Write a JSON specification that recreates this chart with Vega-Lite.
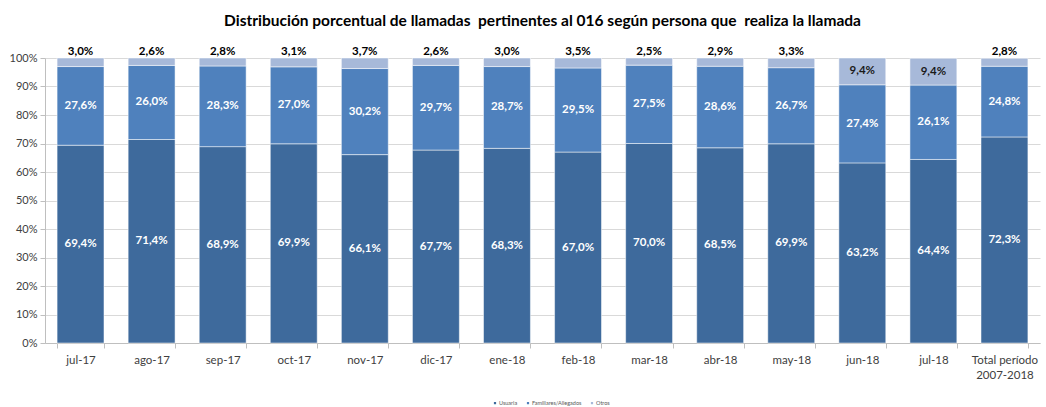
{
  "$schema": "https://vega.github.io/schema/vega-lite/v6.json",
  "width": 995,
  "height": 285,
  "autosize": {"type": "none"},
  "padding": {"left": 45, "top": 58, "right": 6, "bottom": 64},
  "background": "white",
  "config": {
    "font": "Lato",
    "view": {"stroke": null},
    "locale": {"number": {"decimal": ",", "thousands": ".", "grouping": [3], "currency": ["", " €"]}}
  },
  "title": {
    "text": "Distribución porcentual de llamadas\u00a0 pertinentes al 016 según persona que\u00a0 realiza la llamada",
    "font": "Lato",
    "fontSize": 15.5,
    "fontWeight": "bold",
    "color": "#000000",
    "anchor": "middle",
    "offset": 17
  },
  "data": {
    "values": [
      {"mes": "jul-17", "serie": "Usuaria", "v": 69.4},
      {"mes": "jul-17", "serie": "Familiares/Allegados", "v": 27.6},
      {"mes": "jul-17", "serie": "Otros", "v": 3.0},
      {"mes": "ago-17", "serie": "Usuaria", "v": 71.4},
      {"mes": "ago-17", "serie": "Familiares/Allegados", "v": 26.0},
      {"mes": "ago-17", "serie": "Otros", "v": 2.6},
      {"mes": "sep-17", "serie": "Usuaria", "v": 68.9},
      {"mes": "sep-17", "serie": "Familiares/Allegados", "v": 28.3},
      {"mes": "sep-17", "serie": "Otros", "v": 2.8},
      {"mes": "oct-17", "serie": "Usuaria", "v": 69.9},
      {"mes": "oct-17", "serie": "Familiares/Allegados", "v": 27.0},
      {"mes": "oct-17", "serie": "Otros", "v": 3.1},
      {"mes": "nov-17", "serie": "Usuaria", "v": 66.1},
      {"mes": "nov-17", "serie": "Familiares/Allegados", "v": 30.2},
      {"mes": "nov-17", "serie": "Otros", "v": 3.7},
      {"mes": "dic-17", "serie": "Usuaria", "v": 67.7},
      {"mes": "dic-17", "serie": "Familiares/Allegados", "v": 29.7},
      {"mes": "dic-17", "serie": "Otros", "v": 2.6},
      {"mes": "ene-18", "serie": "Usuaria", "v": 68.3},
      {"mes": "ene-18", "serie": "Familiares/Allegados", "v": 28.7},
      {"mes": "ene-18", "serie": "Otros", "v": 3.0},
      {"mes": "feb-18", "serie": "Usuaria", "v": 67.0},
      {"mes": "feb-18", "serie": "Familiares/Allegados", "v": 29.5},
      {"mes": "feb-18", "serie": "Otros", "v": 3.5},
      {"mes": "mar-18", "serie": "Usuaria", "v": 70.0},
      {"mes": "mar-18", "serie": "Familiares/Allegados", "v": 27.5},
      {"mes": "mar-18", "serie": "Otros", "v": 2.5},
      {"mes": "abr-18", "serie": "Usuaria", "v": 68.5},
      {"mes": "abr-18", "serie": "Familiares/Allegados", "v": 28.6},
      {"mes": "abr-18", "serie": "Otros", "v": 2.9},
      {"mes": "may-18", "serie": "Usuaria", "v": 69.9},
      {"mes": "may-18", "serie": "Familiares/Allegados", "v": 26.7},
      {"mes": "may-18", "serie": "Otros", "v": 3.3},
      {"mes": "jun-18", "serie": "Usuaria", "v": 63.2},
      {"mes": "jun-18", "serie": "Familiares/Allegados", "v": 27.4},
      {"mes": "jun-18", "serie": "Otros", "v": 9.4},
      {"mes": "jul-18", "serie": "Usuaria", "v": 64.4},
      {"mes": "jul-18", "serie": "Familiares/Allegados", "v": 26.1},
      {"mes": "jul-18", "serie": "Otros", "v": 9.4},
      {"mes": "Total período 2007-2018", "serie": "Usuaria", "v": 72.3},
      {"mes": "Total período 2007-2018", "serie": "Familiares/Allegados", "v": 24.8},
      {"mes": "Total período 2007-2018", "serie": "Otros", "v": 2.8}
    ]
  },
  "transform": [
    {"calculate": "indexof(['Usuaria','Familiares/Allegados','Otros'], datum.serie)", "as": "k"},
    {"stack": "v", "groupby": ["mes"], "sort": [{"field": "k", "order": "ascending"}], "as": ["y0", "y1"]},
    {"calculate": "(datum.y0 + datum.y1) / 2", "as": "ymid"},
    {"calculate": "replace(format(datum.v, '.1f'), '.', ',') + '%'", "as": "etiqueta"}
  ],
  "encoding": {
    "x": {
      "field": "mes",
      "type": "nominal",
      "sort": null,
      "scale": {"paddingInner": 0.34, "paddingOuter": 0.17},
      "axis": {
        "title": null,
        "labelAngle": 0,
        "labelFont": "Lato",
        "labelFontSize": 11.5,
        "labelColor": "#404040",
        "labelPadding": 6,
        "tickBand": "extent",
        "tickColor": "#bfbfbf",
        "tickSize": 5,
        "domainColor": "#bfbfbf",
        "labelExpr": "datum.value == 'Total período 2007-2018' ? ['Total período', '2007-2018'] : datum.value",
        "labelLineHeight": 15
      }
    }
  },
  "layer": [
    {
      "mark": {"type": "bar", "stroke": "white", "strokeWidth": 0.5},
      "encoding": {
        "y": {
          "field": "y0",
          "type": "quantitative",
          "scale": {"domain": [0, 100], "nice": false},
          "axis": {
            "title": null,
            "values": [0, 10, 20, 30, 40, 50, 60, 70, 80, 90, 100],
            "labelExpr": "datum.value + '%'",
            "labelFont": "Lato",
            "labelFontSize": 11,
            "labelColor": "#404040",
            "labelOverlap": false,
            "gridColor": "#d9d9d9",
            "domainColor": "#bfbfbf",
            "tickColor": "#bfbfbf",
            "tickSize": 5,
            "labelPadding": 3
          }
        },
        "y2": {"field": "y1"},
        "color": {
          "field": "serie",
          "type": "nominal",
          "scale": {
            "domain": ["Usuaria", "Familiares/Allegados", "Otros"],
            "range": ["#3E6A9C", "#4F81BD", "#A7B9D9"]
          },
          "legend": {
            "title": null,
            "orient": "none",
            "direction": "horizontal",
            "legendX": 447,
            "legendY": 342,
            "symbolType": "square",
            "symbolSize": 14,
            "labelFontSize": 5.5,
            "labelColor": "#595959",
            "columnPadding": 5,
            "symbolOffset": 0,
            "labelOffset": 1
          }
        }
      }
    },
    {
      "transform": [{"filter": "datum.serie != 'Otros'"}],
      "mark": {"type": "text", "color": "white", "fontWeight": "bold", "fontSize": 11.5, "font": "Lato"},
      "encoding": {
        "y": {"field": "ymid", "type": "quantitative", "axis": {"title": null, "values": [0, 10, 20, 30, 40, 50, 60, 70, 80, 90, 100], "labelOverlap": false}},
        "text": {"field": "etiqueta"}
      }
    },
    {
      "transform": [{"filter": "datum.serie == 'Otros' && datum.v >= 5"}],
      "mark": {"type": "text", "color": "#1a1a1a", "fontWeight": "bold", "fontSize": 11.5, "font": "Lato"},
      "encoding": {
        "y": {"field": "ymid", "type": "quantitative", "axis": {"title": null, "values": [0, 10, 20, 30, 40, 50, 60, 70, 80, 90, 100], "labelOverlap": false}},
        "text": {"field": "etiqueta"}
      }
    },
    {
      "transform": [{"filter": "datum.serie == 'Otros' && datum.v < 5"}],
      "mark": {"type": "text", "color": "#000000", "fontWeight": "bold", "fontSize": 11.5, "font": "Lato", "baseline": "bottom", "dy": -1},
      "encoding": {
        "y": {"datum": 100, "type": "quantitative", "axis": {"title": null, "values": [0, 10, 20, 30, 40, 50, 60, 70, 80, 90, 100], "labelOverlap": false}},
        "text": {"field": "etiqueta"}
      }
    }
  ]
}
